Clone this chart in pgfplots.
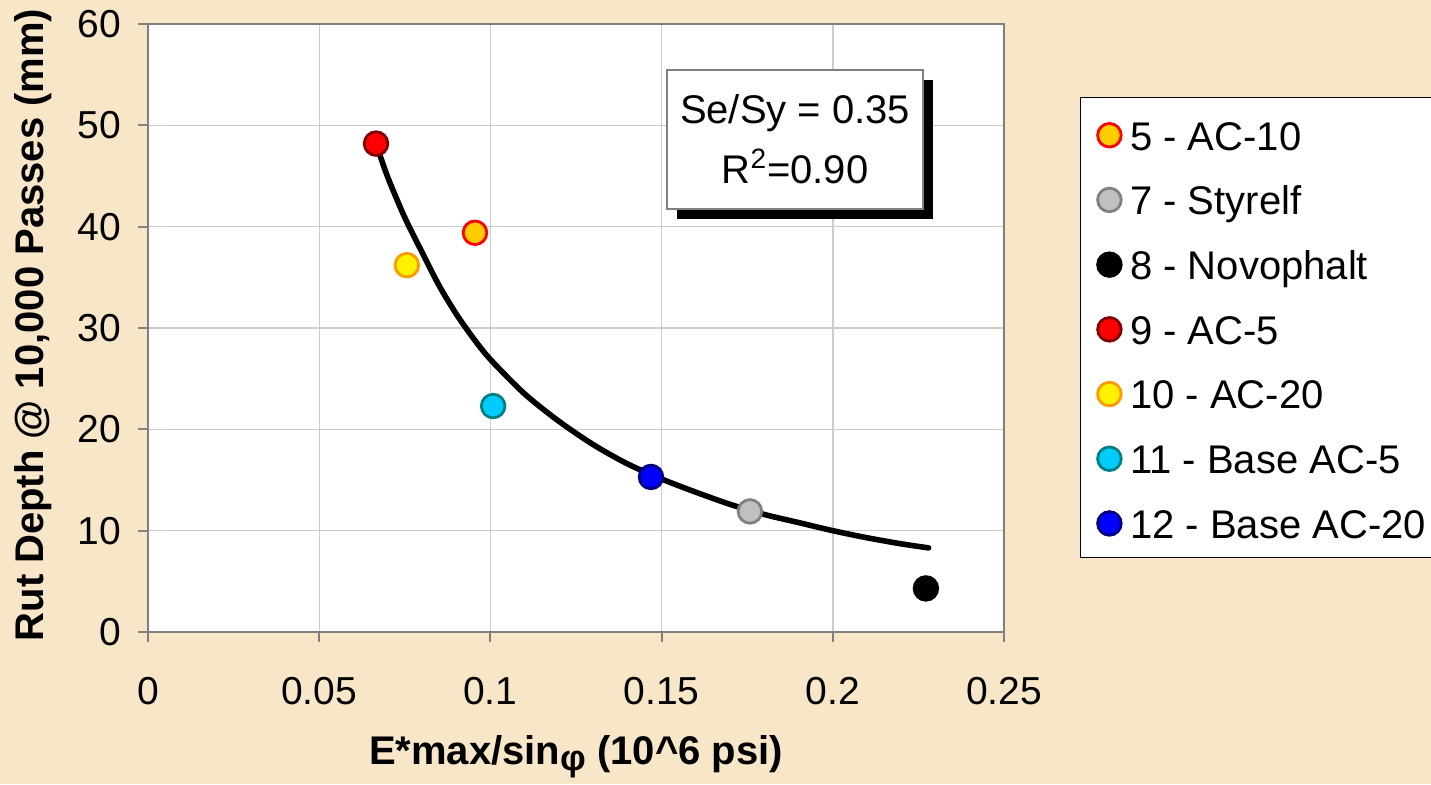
\documentclass[border=0pt]{standalone}
\usepackage{fontspec}
\setmainfont{Liberation Sans}
\usepackage{pgfplots}
\pgfplotsset{compat=1.18}
\usetikzlibrary{shadows}

\definecolor{parch}{HTML}{F8E6C8}
\definecolor{gridc}{HTML}{CCCCCC}
\definecolor{axc}{HTML}{808080}
\definecolor{gold}{HTML}{FFCC00}
\definecolor{silver}{HTML}{C0C0C0}
\definecolor{darkred}{HTML}{800000}
\definecolor{orng}{HTML}{FF9900}
\definecolor{cyanf}{HTML}{00CCFF}
\definecolor{tealc}{HTML}{008080}
\definecolor{navyc}{HTML}{000080}

\begin{document}
\begin{tikzpicture}
\fill[parch] (0,0) rectangle (715.5pt,392pt);
\useasboundingbox (0,0) rectangle (715.5pt,392pt);
\begin{axis}[
    at={(74pt,76pt)}, anchor=south west,
    scale only axis, width=428pt, height=304pt,
    xmin=0, xmax=0.25, ymin=0, ymax=60,
    xtick={0,0.05,0.1,0.15,0.2,0.25},
    xticklabels={0,0.05,0.1,0.15,0.2,0.25},
    ytick={0,10,20,30,40,50,60},
    grid=major,
    major grid style={gridc, line width=0.7pt},
    axis background/.style={fill=white},
    axis line style={axc, line width=1.2pt},
    tick align=outside, xtick pos=left, ytick pos=left,
    major tick length=5pt,
    tick style={axc, line width=1pt},
    /pgf/number format/assume math mode=true,
    ticklabel style={font=\fontsize{19.5}{23}\selectfont},
    xticklabel style={yshift=-14pt},
    yticklabel style={xshift=-5pt},
    legend style={at={(1.0888,0.8799)}, anchor=north west,
        draw=black, line width=0.6pt, fill=white,
        font=\fontsize{20}{24}\selectfont,
        inner xsep=8.5pt, inner ysep=7.2pt, row sep=10.75pt, column sep=4.5pt,
        nodes={text height=19pt, text depth=2.6pt, inner sep=0pt}},
    legend cell align=left,
    legend image code/.code={\draw[#1] plot coordinates {(0pt,-0.8pt)};},
]
% measured points
\addplot[only marks, mark=*, mark size=5.9pt, mark options={fill=gold, draw=red, line width=1.4pt}]
    coordinates {(0.0955,39.4)};
\addlegendentry{5 - AC-10}
\addplot[only marks, mark=*, mark size=5.9pt, mark options={fill=silver, draw=axc, line width=1.4pt}]
    coordinates {(0.1758,11.9)};
\addlegendentry{7 - Styrelf}
\addplot[only marks, mark=*, mark size=5.9pt, mark options={fill=black, draw=black, line width=1.4pt}]
    coordinates {(0.2272,4.3)};
\addlegendentry{8 - Novophalt}
\addplot[only marks, mark=*, mark size=5.9pt, mark options={fill=red, draw=darkred, line width=1.4pt}]
    coordinates {(0.0666,48.2)};
\addlegendentry{9 - AC-5}
\addplot[only marks, mark=*, mark size=5.9pt, mark options={fill=yellow, draw=orng, line width=1.4pt}]
    coordinates {(0.0756,36.2)};
\addlegendentry{10 - AC-20}
\addplot[only marks, mark=*, mark size=5.9pt, mark options={fill=cyanf, draw=tealc, line width=1.4pt}]
    coordinates {(0.1008,22.3)};
\addlegendentry{11 - Base AC-5}
\addplot[only marks, mark=*, mark size=5.9pt, mark options={fill=blue, draw=navyc, line width=1.4pt}]
    coordinates {(0.1469,15.3)};
\addlegendentry{12 - Base AC-20}
% fitted curve
\addplot[forget plot, black, line width=2.8pt, line join=round, line cap=round, smooth] coordinates {
    (0.067,47.8) (0.070,44.9) (0.075,40.9) (0.080,37.5) (0.085,34.2)
    (0.090,31.4) (0.095,29.0) (0.100,26.9) (0.110,23.5) (0.120,20.8)
    (0.130,18.5) (0.140,16.6) (0.150,15.1) (0.160,13.8) (0.170,12.6)
    (0.180,11.6) (0.190,10.8) (0.200,10.0) (0.210,9.3) (0.220,8.7) (0.228,8.3)};
\node[draw=axc, line width=0.8pt, fill=white, minimum width=128pt, minimum height=69.5pt,
      align=center, font=\fontsize{20}{30}\selectfont,
      drop shadow={shadow xshift=5pt, shadow yshift=-5pt, fill=black, opacity=1}]
    at (axis cs:0.189,48.6) {Se/Sy = 0.35\\R\textsuperscript{2}=0.90};
\end{axis}
\node[font=\bfseries\fontsize{20}{24}\selectfont] at (288pt,13.5pt)
    {E*max/sin\raisebox{-3pt}{\fontsize{18}{20}\selectfont φ} (10\textasciicircum 6 psi)};
\node[rotate=90, font=\bfseries\fontsize{20}{24}\selectfont] at (16.5pt,229.5pt)
    {Rut Depth @ 10,000 Passes (mm)};
\end{tikzpicture}
\end{document}
